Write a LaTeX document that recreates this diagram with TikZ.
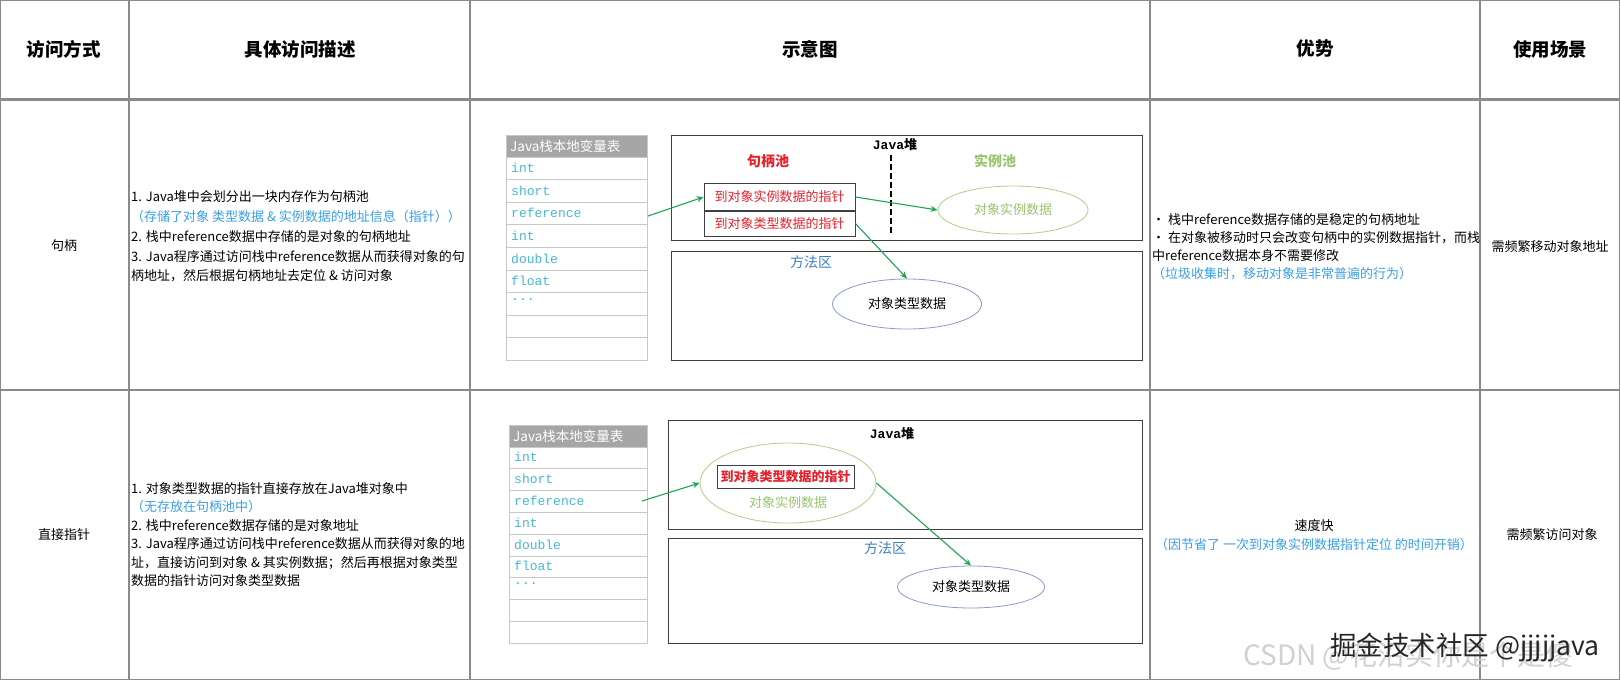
\documentclass[tikz,border=0pt]{standalone}
\usepackage{fontspec}
\setmainfont{Noto Sans CJK SC}
\newfontfamily\cjk{Noto Sans CJK SC}
\newfontfamily\monof{Liberation Mono}
\usetikzlibrary{arrows.meta,shapes.geometric}
\definecolor{gridc}{HTML}{8A8A8A}
\definecolor{bluet}{HTML}{3A9FE8}
\definecolor{cyant}{HTML}{45B8D8}
\definecolor{greent}{HTML}{9AC46E}
\definecolor{redt}{HTML}{E8202A}
\definecolor{methodt}{HTML}{3E7FC0}
\definecolor{arrowg}{HTML}{1FA555}
\definecolor{hdrgray}{HTML}{A6A6A6}
\definecolor{cellline}{HTML}{C8C8C8}
\definecolor{ell2}{HTML}{8A9AD0}
\begin{document}
\begin{tikzpicture}[x=1pt,y=-1pt,
  txt/.style={anchor=base west,inner sep=0pt,font=\fontsize{13}{15}\selectfont},
  ctxt/.style={anchor=base,inner sep=0pt,font=\fontsize{13}{15}\selectfont},
  hdr/.style={anchor=center,inner sep=0pt,font=\fontsize{18.5}{20}\selectfont\bfseries},
  mono/.style={anchor=west,inner sep=0pt,text=cyant,font=\monof\fontsize{13}{15}\selectfont},
  thd/.style={anchor=west,inner sep=0pt,text=white,font=\fontsize{13.5}{15}\selectfont},
  arr/.style={draw=arrowg,line width=1.1pt,-{Stealth[length=7pt,width=6pt]}},
  boxd/.style={draw=black!75,line width=0.8pt}]
\useasboundingbox (0,0) rectangle (1620,680);
\fill[white] (0,0) rectangle (1620,680);
% grid
\draw[gridc,line width=1.2pt] (0.6,0.6) rectangle (1619.4,679.4);
\draw[gridc,line width=3pt] (0,99) -- (1620,99);
\draw[gridc,line width=1.2pt] (0,390) -- (1620,390);
\foreach \x in {129,470,1150,1480} \draw[gridc,line width=1.2pt] (\x,0) -- (\x,680);
% header
\node[hdr] (h1) at (64,49) {访问方式};
\node[hdr] (h2) at (300,49) {具体访问描述};
\node[hdr] (h3) at (810,49) {示意图};
\node[hdr] (h4) at (1315,49) {优势};
\node[hdr] (h5) at (1550,49) {使用场景};
% row 1 text
\node[ctxt] (r1a) at (64,250) {句柄};
\node[txt] (r1d1) at (131,201) {1. Java堆中会划分出一块内存作为句柄池};
\node[txt,text=bluet] (r1d2) at (131,221) {（存储了对象 类型数据 \& 实例数据的地址信息（指针））};
\node[txt] (r1d3) at (131,241) {2. 栈中reference数据中存储的是对象的句柄地址};
\node[txt] (r1d4) at (131,261) {3. Java程序通过访问栈中reference数据从而获得对象的句};
\node[txt] (r1d5) at (131,280) {柄地址，然后根据句柄地址去定位 \& 访问对象};
\node[txt] (r1b1) at (1152,224) {• 栈中reference数据存储的是稳定的句柄地址};
\node[txt] (r1b2) at (1152,242) {• 在对象被移动时只会改变句柄中的实例数据指针，而栈};
\node[txt] (r1b3) at (1152,260) {中reference数据本身不需要修改};
\node[txt,text=bluet] (r1b4) at (1152,278) {（垃圾收集时，移动对象是非常普遍的行为）};
\node[ctxt] (r1u) at (1550,251) {需频繁移动对象地址};
% row 2 text
\node[ctxt] (r2a) at (64,539) {直接指针};
\node[txt] (r2d1) at (131,493) {1. 对象类型数据的指针直接存放在Java堆对象中};
\node[txt,text=bluet] (r2d2) at (131,511) {（无存放在句柄池中）};
\node[txt] (r2d3) at (131,530) {2. 栈中reference数据存储的是对象地址};
\node[txt] (r2d4) at (131,548) {3. Java程序通过访问栈中reference数据从而获得对象的地};
\node[txt] (r2d5) at (131,567) {址，直接访问到对象 \& 其实例数据；然后再根据对象类型};
\node[txt] (r2d6) at (131,585) {数据的指针访问对象类型数据};
\node[ctxt] (r2b1) at (1314,530) {速度快};
\node[ctxt,text=bluet] (r2b2) at (1314,549) {（因节省了 一次到对象实例数据指针定位 的时间开销）};
\node[ctxt] (r2u) at (1552,539) {需频繁访问对象};
% ===== diagram 1 =====
\fill[hdrgray] (506,135) rectangle (647,157);
\node[thd] (t1h) at (510,146) {Java栈本地变量表};
\foreach \i in {0,...,9} \draw[cellline,line width=0.8pt] (506,157+22.6*\i) -- (647,157+22.6*\i);
\draw[cellline,line width=0.8pt] (506,135) rectangle (647,360);
\node[mono] (t1a) at (511,168) {int};
\node[mono] (t1b) at (511,190.5) {short};
\node[mono] (t1c) at (511,213) {reference};
\node[mono] (t1d) at (511,236) {int};
\node[mono] (t1e) at (511,258.5) {double};
\node[mono] (t1f) at (511,281) {float};
\node[mono] (t1g) at (511,300) {...};
\draw[boxd] (671,135) rectangle (1142,240);
\draw[boxd] (671,251) rectangle (1142,360);
\node[font=\monof\bfseries\fontsize{13}{15}\selectfont,inner sep=0pt] (heap1) at (895,145) {Java\cjk 堆};
\node[text=redt,font=\fontsize{14}{16}\selectfont\bfseries,inner sep=0pt] (pool1) at (768,161) {句柄池};
\node[text=greent,font=\fontsize{14}{16}\selectfont\bfseries,inner sep=0pt] (pool2) at (995,161) {实例池};
\draw[black,line width=2pt,dash pattern=on 6pt off 3pt] (891,155) -- (891,235);
\node[boxd,minimum width=151pt,minimum height=26.5pt,inner sep=0pt,text=redt,font=\fontsize{13}{15}\selectfont] (p1) at (779.5,197) {到对象实例数据的指针};
\node[boxd,minimum width=151pt,minimum height=25pt,inner sep=0pt,text=redt,font=\fontsize{13}{15}\selectfont] (p2) at (779.5,223.5) {到对象类型数据的指针};
\node[draw=greent!80,line width=0.8pt,ellipse,minimum width=150pt,minimum height=48pt,inner sep=0pt,text=greent,font=\fontsize{13}{15}\selectfont] (inst1) at (1013,210) {对象实例数据};
\node[text=methodt,font=\fontsize{14}{16}\selectfont,inner sep=0pt] (m1) at (811,262) {方法区};
\node[draw=ell2,line width=0.8pt,ellipse,minimum width=149pt,minimum height=50pt,inner sep=0pt,font=\fontsize{13}{15}\selectfont] (type1) at (907,304) {对象类型数据};
\coordinate (ref1) at (648,216);
\draw[arr] (ref1) -- (p1.west);
\draw[arr] (p1.east) -- (inst1.west);
\draw[arr] (p2.east) -- (type1.north);
% ===== diagram 2 =====
\fill[hdrgray] (509,425) rectangle (647,447);
\node[thd] (t2h) at (513,436) {Java栈本地变量表};
\foreach \i in {0,...,9} \draw[cellline,line width=0.8pt] (509,447+21.8*\i) -- (647,447+21.8*\i);
\draw[cellline,line width=0.8pt] (509,425) rectangle (647,643);
\node[mono] (t2a) at (514,457) {int};
\node[mono] (t2b) at (514,479) {short};
\node[mono] (t2c) at (514,501) {reference};
\node[mono] (t2d) at (514,523) {int};
\node[mono] (t2e) at (514,544.5) {double};
\node[mono] (t2f) at (514,566) {float};
\node[mono] (t2g) at (514,584) {...};
\draw[boxd] (668,420) rectangle (1142,529);
\draw[boxd] (668,538) rectangle (1142,643);
\node[font=\monof\bfseries\fontsize{13}{15}\selectfont,inner sep=0pt] (heap2) at (892,434) {Java\cjk 堆};
\node[draw=greent!80,line width=0.8pt,ellipse,minimum width=176pt,minimum height=80pt,inner sep=0pt] (inst2) at (788,483) {};
\node[boxd,line width=1pt,minimum width=137pt,minimum height=23pt,inner sep=0pt,text=redt,font=\fontsize{13}{15}\selectfont\bfseries] (p3) at (785.5,476.5) {到对象类型数据的指针};
\node[text=greent,font=\fontsize{13}{15}\selectfont,inner sep=0pt] (inst2t) at (788,503) {对象实例数据};
\node[text=methodt,font=\fontsize{14}{16}\selectfont,inner sep=0pt] (m2) at (885,548) {方法区};
\node[draw=ell2,line width=0.8pt,ellipse,minimum width=147pt,minimum height=42pt,inner sep=0pt,font=\fontsize{13}{15}\selectfont] (type2) at (971,587) {对象类型数据};
\coordinate (ref2) at (642,501);
\draw[arr] (ref2) -- (inst2.west);
\draw[arr] (inst2.east) -- (type2.north);
% watermark
\node[anchor=base west,inner sep=0pt,text=black!18,font=\fontsize{28}{30}\selectfont] (wm1) at (1243,665) {CSDN @花沿实你是个是傻};
\node[anchor=base west,inner sep=0pt,text=black!85,font=\fontsize{26.5}{28}\selectfont] (wm2) at (1330,655) {掘金技术社区 @jjjjjava};
\end{tikzpicture}
\end{document}
